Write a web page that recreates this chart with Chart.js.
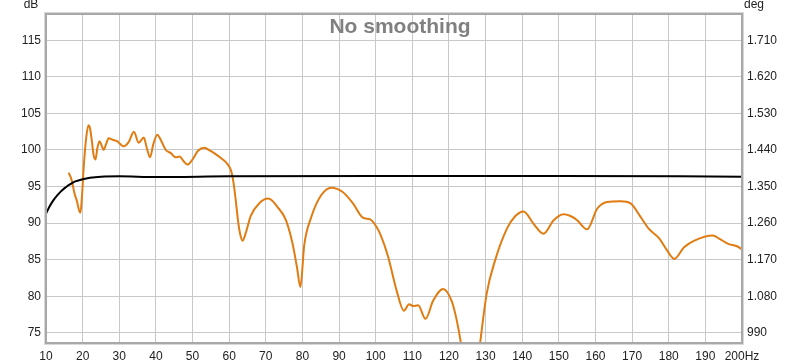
<!DOCTYPE html>
<html>
<head>
<meta charset="utf-8">
<script src="https://cdn.jsdelivr.net/npm/chart.js@4"></script>
<style>
html,body{margin:0;padding:0;background:#fff;}
#wrap{width:800px;height:364px;}
</style>
</head>
<body>
<div id="wrap"><canvas id="c" width="800" height="364"></canvas></div>
<script>
// ---- data ----
const splFreq = [16.2,17.0,17.8,18.4,19.0,19.4,19.8,20.3,21.0,21.6,22.0,22.5,23.0,23.5,24.0,24.6,25.2,25.75,26.4,27.1,28.2,29.4,30.3,31.2,32.6,34.0,35.3,36.7,37.5,38.4,39.3,40.4,41.5,42.7,44.0,45.4,46.5,47.5,48.6,50.0,51.5,53.2,54.8,56.4,58.0,59.5,60.5,61.2,61.8,62.5,63.0,63.65,64.5,65.9,68.2,70.7,73.2,75.5,77.3,78.5,79.45,80.5,82.4,85.1,87.9,91.0,93.8,96.5,98.5,100.2,101.5,103.4,105.7,107.7,109.1,110.2,111.6,113.6,115.7,118.4,120.7,122.0,123.3,124.5,126.0,127.5,128.5,130.3,132.6,135.8,138.0,140.4,143.1,145.8,148.6,151.3,153.0,155.0,157.7,160.5,163.2,166.85,169.6,172.3,174.6,177.4,179.5,181.5,184.2,187.0,192.0,194.0,196.1,198.8,200];
const splLevel = [96.9,95.9,94.0,93.1,91.8,91.4,93.5,97.7,101.8,103.4,103.0,101.3,99.3,98.7,100.2,101.2,100.6,100.0,100.8,101.6,101.4,101.2,100.8,100.5,101.1,102.5,101.0,101.7,100.3,99.0,100.8,102.1,101.2,100.0,99.6,99.0,99.1,98.5,98.0,98.7,99.9,100.3,99.9,99.4,98.8,98.1,97.2,95.5,93.1,90.0,88.5,87.6,88.6,91.0,92.7,93.35,92.2,90.4,87.2,84.0,81.25,87.0,90.8,93.8,94.85,94.25,92.7,90.75,90.5,89.5,88.2,85.4,80.8,78.0,78.9,78.65,78.75,76.9,79.4,81.0,79.4,77.0,73.5,69.0,65.5,69.0,73.5,80.35,84.9,89.2,90.9,91.6,89.9,88.55,90.4,91.2,91.0,90.4,89.15,92.0,92.9,93.0,92.7,90.85,89.2,87.9,86.3,85.1,86.7,87.6,88.3,87.8,87.2,86.8,86.4];

const refFreq  = [10,11,12,13,14,15,16,17,18,20,22,25,30,40,60,100,150,200];
const refLevel = [91.3,92.3,93.1,93.75,94.3,94.75,95.15,95.45,95.7,96.0,96.2,96.35,96.4,96.3,96.4,96.45,96.45,96.35];

const xTicks = [10,20,30,40,50,60,70,80,90,100,110,120,130,140,150,160,170,180,190,200];
const dbTicks = [75,80,85,90,95,100,105,110,115];
const degTickLabels = ['990','1.080','1.170','1.260','1.350','1.440','1.530','1.620','1.710'];

const chartTitle = 'No smoothing';
const leftUnit = 'dB';
const rightUnit = 'deg';
const xUnit = 'Hz';

// ---- chart ----
const FONT = '"Liberation Sans", Arial, sans-serif';

const toPts = (xs, ys) => xs.map((x, i) => ({x: x, y: ys[i]}));

const decor = {
  id: 'decor',
  beforeDatasetsDraw(chart) {
    const {ctx} = chart;
    ctx.save();
    ctx.font = 'bold 21px ' + FONT;
    ctx.fillStyle = '#808080';
    ctx.textAlign = 'center';
    ctx.textBaseline = 'middle';
    ctx.fillText(chartTitle, 400, 27);
    ctx.restore();
  },
  afterDraw(chart) {
    const {ctx, chartArea: a} = chart;
    ctx.save();
    ctx.strokeStyle = '#d8d8d8';
    ctx.lineWidth = 1;
    ctx.strokeRect(a.left - 1.5, a.top - 1.5, a.right - a.left + 3, a.bottom - a.top + 3);
    ctx.strokeStyle = '#a8a8a8';
    ctx.lineWidth = 2;
    ctx.strokeRect(a.left, a.top, a.right - a.left, a.bottom - a.top);
    ctx.font = '12px ' + FONT;
    ctx.fillStyle = '#222';
    ctx.textBaseline = 'middle';
    ctx.textAlign = 'center';
    ctx.fillText(leftUnit, 31, 5);
    ctx.textAlign = 'left';
    ctx.fillText(rightUnit, 744, 5);
    ctx.restore();
  }
};

new Chart(document.getElementById('c'), {
  type: 'line',
  data: {
    datasets: [
      {
        data: toPts(refFreq, refLevel),
        borderColor: '#000000',
        borderWidth: 2,
        pointRadius: 0,
        cubicInterpolationMode: 'monotone',
        yAxisID: 'y'
      },
      {
        data: toPts(splFreq, splLevel),
        borderColor: '#e07c12',
        borderWidth: 2,
        pointRadius: 0,
        cubicInterpolationMode: 'monotone',
        yAxisID: 'y'
      }
    ]
  },
  options: {
    responsive: false,
    animation: false,
    events: [],
    layout: {padding: {top: 14, left: 0, right: 0, bottom: 0}},
    plugins: {legend: {display: false}, tooltip: {enabled: false}, title: {display: false}},
    scales: {
      x: {
        type: 'linear',
        min: 10, max: 200,
        afterBuildTicks: s => { s.ticks = xTicks.map(v => ({value: v})); },
        afterFit: s => { s.height = 21; },
        grid: {color: '#c8c8c8', lineWidth: 1, drawTicks: false},
        border: {display: false},
        ticks: {
          padding: 6,
          maxRotation: 0,
          autoSkip: false,
          color: '#222',
          font: {family: FONT, size: 12},
          callback: v => (v === 200 ? v + xUnit : String(v))
        }
      },
      y: {
        type: 'linear',
        position: 'left',
        min: 73.6, max: 118.6,
        afterBuildTicks: s => { s.ticks = dbTicks.map(v => ({value: v})); },
        afterFit: s => { s.width = 46; },
        grid: {color: '#c8c8c8', lineWidth: 1, drawTicks: false},
        border: {display: false},
        ticks: {
          padding: 5,
          color: '#222',
          font: {family: FONT, size: 12},
          callback: v => String(v)
        }
      },
      y2: {
        type: 'linear',
        position: 'right',
        min: 73.6, max: 118.6,
        afterBuildTicks: s => { s.ticks = dbTicks.map(v => ({value: v})); },
        afterFit: s => { s.width = 58; },
        grid: {display: false, drawTicks: false},
        border: {display: false},
        ticks: {
          padding: 5,
          color: '#222',
          font: {family: FONT, size: 12},
          callback: v => degTickLabels[dbTicks.indexOf(v)]
        }
      }
    }
  },
  plugins: [decor]
});
</script>
</body>
</html>
